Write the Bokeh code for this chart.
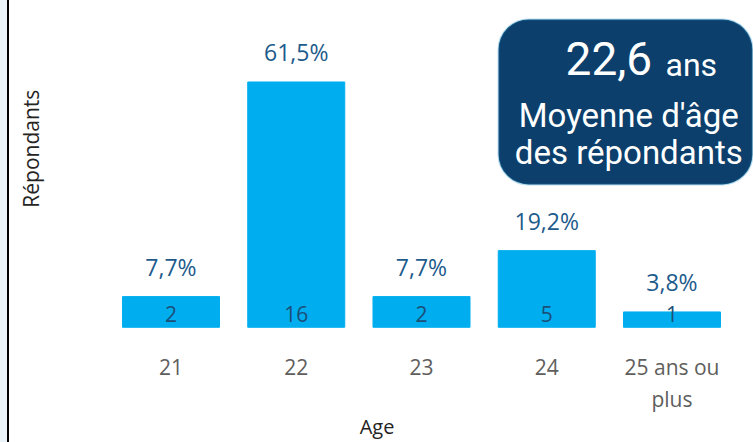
import math
from bokeh.plotting import figure
from bokeh.models import Range1d, FixedTicker, BoxAnnotation, ColumnDataSource
from bokeh.core.properties import value
from bokeh.embed import file_html
from bokeh.resources import INLINE

# ---- data ----
categories = ["21", "22", "23", "24", "25 ans ou\nplus"]
counts = [2, 16, 2, 5, 1]
mean_age = 22.6
x_title = "Age"
y_title = "Répondants"
card_line1 = "Moyenne d'âge"
card_line2 = "des répondants"

total = sum(counts)
pcts = [f"{c / total * 100:.1f}".replace(".", ",") + "%" for c in counts]
xs = list(range(len(categories)))
src = ColumnDataSource(dict(x=xs, top=counts, pct=pcts,
                            cnt=[str(c) for c in counts], base=[0] * len(xs)))

FONT = "Open Sans"

p = figure(width=753, height=442, output_backend="svg", toolbar_location=None,
           x_range=Range1d(-1.3613, 4.6507), y_range=Range1d(-0.8625, 21.316),
           y_axis_location=None,
           min_border_left=0, min_border_right=0, min_border_top=0,
           min_border_bottom=100)
p.outline_line_color = None
p.xgrid.visible = False
p.ygrid.visible = False
p.background_fill_color = None
p.border_fill_color = None
p.styles = {"background": "linear-gradient(to right, #EAF4F8 0px, #EAF4F8 7px, "
                          "#000000 7px, #000000 9px, #FFFFFF 9px)"}

xa = p.xaxis[0]
xa.ticker = FixedTicker(ticks=xs)
xa.major_label_overrides = {i: c for i, c in zip(xs, categories)}
xa.axis_line_color = None
xa.major_tick_line_color = None
xa.minor_tick_line_color = None
xa.major_label_standoff = 6
xa.major_label_text_font = FONT
xa.major_label_text_font_size = "21px"
xa.major_label_text_line_height = 1.15
xa.major_label_text_color = "#605E5C"
xa.axis_label = x_title
xa.axis_label_text_font = FONT
xa.axis_label_text_font_size = "20px"
xa.axis_label_text_line_height = 1.0
xa.axis_label_text_font_style = "normal"
xa.axis_label_text_color = "#252423"
xa.axis_label_standoff = -3

# bars
p.vbar(x="x", top="top", width=0.7745, source=src, color="#00AEEF")

# percentage labels
p.text(x="x", y="top", text="pct", source=src, text_align="center",
       text_baseline="middle", y_offset=-30,
       text_font=value(FONT), text_font_size="23px", text_color="#1D5B8C")

# count labels inside bars
p.text(x="x", y="base", text="cnt", source=src, text_align="center",
       text_baseline="middle", y_offset=-13,
       text_font=value(FONT), text_font_size="21px", text_color="#1B4F78")

# y title
p.text(x=[-1.114], y=[11.65], text=[y_title], angle=math.pi / 2,
       text_align="center", text_baseline="middle",
       text_font=value(FONT), text_font_size="21px", text_color="#252423")

# summary card
card = BoxAnnotation(left=2.615, right=4.642, top=20.08, bottom=9.32,
                     fill_color="#0C3F6C", fill_alpha=1.0,
                     line_color="#1C8BC0", line_width=2, border_radius=30,
                     level="underlay")
p.add_layout(card)

CARD_FONT = "Roboto"
p.text(x=[3.150], y=[16.45], text=[f"{mean_age:.1f}".replace(".", ",")],
       text_align="left", text_baseline="middle", y_offset=-17,
       text_font=value(CARD_FONT), text_font_size="46px", text_color="white")
p.text(x=[3.948], y=[16.45], text=["ans"],
       text_align="left", text_baseline="middle", y_offset=-10,
       text_font=value(CARD_FONT), text_font_size="32px", text_color="white")
p.text(x=[3.655, 3.655], y=[13.10, 10.68], text=[card_line1, card_line2],
       text_align="center", text_baseline="middle", y_offset=-11,
       text_font=value(CARD_FONT), text_font_size="33px", text_color="white")

open("out.html", "w").write(file_html(p, INLINE))
